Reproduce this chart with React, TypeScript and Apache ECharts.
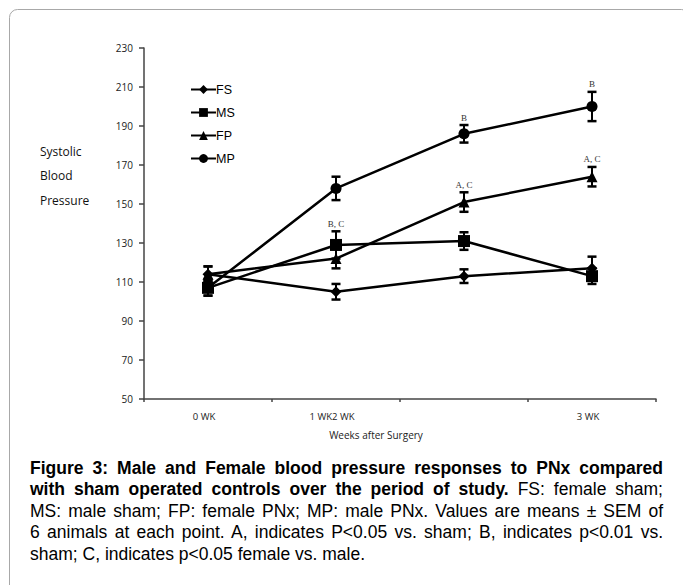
import React, { useEffect, useRef } from "react";
import * as echarts from "echarts";

// ---- data ----
const categories = ["0 WK", "1 WK", "2 WK", "3 WK"];
const tickLabels = ["0 WK", "1 WK2 WK", "", "3 WK"];
const seriesNames = ["FS", "MS", "FP", "MP"];
const seriesSymbols = ["diamond", "rect", "triangle", "circle"];

const fsValues = [114, 105, 113, 117];
const fsSem = [4, 4, 3.5, 6];
const fsMarks = ["", "", "", ""];

const msValues = [107, 129, 131, 113];
const msSem = [4, 7, 4.5, 4];
const msMarks = ["", "B, C", "", ""];

const fpValues = [114, 122, 151, 164];
const fpSem = [4, 5, 5, 5];
const fpMarks = ["", "", "A, C", "A, C"];

const mpValues = [107, 158, 186, 200];
const mpSem = [4, 6, 4.5, 7.5];
const mpMarks = ["", "", "B", "B"];

const yMin = 50;
const yMax = 230;
const yStep = 20;

const captionLines = [
  { bold: "Figure 3: Male and Female blood pressure responses to PNx compared", normal: "" },
  { bold: "with sham operated controls over the period of study.", normal: " FS: female sham;" },
  { bold: "", normal: "MS: male sham; FP: female PNx; MP: male PNx. Values are means \u00b1 SEM of" },
  { bold: "", normal: "6 animals at each point. A, indicates P<0.05 vs. sham; B, indicates p<0.01 vs." },
  { bold: "", normal: "sham; C, indicates p<0.05 female vs. male." },
];

const allValues = [fsValues, msValues, fpValues, mpValues];
const allSem = [fsSem, msSem, fpSem, mpSem];
const allMarks = [fsMarks, msMarks, fpMarks, mpMarks];

export default function App() {
  const ref = useRef<HTMLDivElement>(null);

  useEffect(() => {
    if (!ref.current) return;
    const chart = echarts.init(ref.current, undefined, { renderer: "svg" });

    const errData: number[][] = [];
    const errLabels: string[] = [];
    allValues.forEach((vals, s) => {
      vals.forEach((v, i) => {
        errData.push([i, v, allSem[s][i]]);
        errLabels.push(allMarks[s][i]);
      });
    });

    const lineSeries = seriesNames.map((name, s) => ({
      name,
      type: "line",
      data: allValues[s],
      symbol: seriesSymbols[s],
      symbolSize: s === 1 ? 12 : 11,
      lineStyle: { color: "#000", width: 2.5 },
      itemStyle: { color: "#000" },
      z: 3,
    }));

    const option: any = {
      animation: false,
      backgroundColor: "#fff",
      grid: { left: 144, top: 48, width: 512, height: 351, containLabel: false },
      legend: {
        orient: "vertical",
        left: 185,
        top: 78,
        itemWidth: 25,
        itemHeight: 11,
        itemGap: 10,
        data: seriesNames,
        textStyle: { fontFamily: "Liberation Sans", fontSize: 12.5, color: "#000", padding: [4, 0, 0, -5] },
      },
      xAxis: {
        type: "category",
        data: categories,
        boundaryGap: true,
        axisLine: { lineStyle: { color: "#444", width: 1.5 } },
        axisTick: { show: true, length: 3, interval: 0, lineStyle: { color: "#444", width: 1.5 } },
        axisLabel: {
          interval: 0,
          margin: 12,
          color: "#222",
          fontFamily: "Open Sans",
          fontSize: 9.5,
          padding: [0, 8, 0, 0],
          formatter: (_v: string, i: number) => tickLabels[i],
        },
        name: "Weeks after Surgery",
        nameLocation: "middle",
        nameGap: 31,
        nameTextStyle: { fontFamily: "Open Sans", fontSize: 10, color: "#222", padding: [0, 48, 0, 0] },
      },
      yAxis: {
        type: "value",
        min: yMin,
        max: yMax,
        interval: yStep,
        axisLine: { show: true, lineStyle: { color: "#444", width: 1.5 } },
        axisTick: { show: true, length: 5, lineStyle: { color: "#444", width: 1.5 } },
        splitLine: { show: false },
        axisLabel: { margin: 11, color: "#222", fontFamily: "Open Sans", fontSize: 10 },
      },
      graphic: [
        {
          type: "rect",
          shape: { x: 9.5, y: 9.5, width: 680, height: 620, r: 8 },
          style: { fill: "none", stroke: "#a8a8a8", lineWidth: 1 },
          silent: true,
        },
        {
          type: "text",
          left: 40,
          top: 139,
          style: {
            text: "Systolic\nBlood\nPressure",
            fontFamily: "Open Sans",
            fontSize: 12,
            lineHeight: 24.5,
            fill: "#111",
          },
        },
      ],
      series: [
        ...lineSeries,
        {
          type: "custom",
          name: "err",
          data: errData,
          encode: { x: 0, y: 1 },
          z: 4,
          renderItem: (params: any, api: any) => {
            const x = api.value(0);
            const v = api.value(1);
            const e = api.value(2);
            const top = api.coord([x, v + e]);
            const bot = api.coord([x, v - e]);
            const cap = 4.5;
            const stroke = { stroke: "#000", lineWidth: 2.5 };
            const children: any[] = [
              { type: "line", shape: { x1: top[0], y1: top[1], x2: bot[0], y2: bot[1] }, style: { stroke: "#000", lineWidth: 2 } },
              { type: "line", shape: { x1: top[0] - cap, y1: top[1], x2: top[0] + cap, y2: top[1] }, style: stroke },
              { type: "line", shape: { x1: bot[0] - cap, y1: bot[1], x2: bot[0] + cap, y2: bot[1] }, style: stroke },
            ];
            const lab = errLabels[params.dataIndex];
            if (lab) {
              children.push({
                type: "text",
                x: top[0],
                y: top[1] - 3,
                style: {
                  text: lab,
                  fontFamily: "Liberation Serif",
                  fontSize: 9,
                  fill: "#333",
                  align: "center",
                  verticalAlign: "bottom",
                },
              });
            }
            return { type: "group", children };
          },
        },
      ],
    };

    chart.setOption(option);
    return () => chart.dispose();
  }, []);

  return (
    <div style={{ position: "absolute", left: 0, top: 0, width: 683, height: 585, background: "#fff", overflow: "hidden" }}>
      <div ref={ref} style={{ position: "absolute", left: 0, top: 0, width: 683, height: 585 }} />
      <div
        style={{
          position: "absolute",
          left: 30,
          top: 458,
          width: 633,
          fontFamily: "'Liberation Sans', Arial, sans-serif",
          fontSize: 17.5,
          lineHeight: "21.4px",
          color: "#000",
        }}
      >
        {captionLines.map((ln, i) => (
          <div
            key={i}
            style={{
              textAlign: "justify",
              textAlignLast: i === captionLines.length - 1 ? "left" : "justify",
              whiteSpace: "nowrap",
            } as any}
          >
            {ln.bold ? <b>{ln.bold}</b> : null}
            {ln.normal}
          </div>
        ))}
      </div>
    </div>
  );
}
